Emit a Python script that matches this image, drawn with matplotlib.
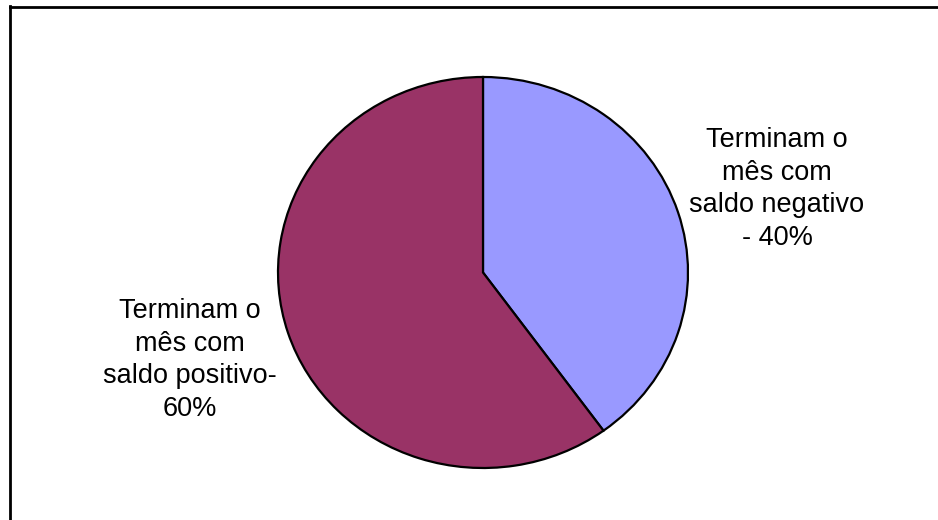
import matplotlib
matplotlib.use("Agg")
import matplotlib.pyplot as plt
from matplotlib.lines import Line2D

categories = ["Terminam o\nmês com\nsaldo negativo\n- 40%",
              "Terminam o\nmês com\nsaldo positivo-\n60%"]
values = [40, 60]
colors = ["#9999FF", "#993366"]

plt.rcParams['font.family'] = ['Liberation Sans', 'DejaVu Sans']

W, H = 938, 520
fig = plt.figure(figsize=(W / 100, H / 100), dpi=100)

# frame (left and top edges visible; others beyond the image)
fig.add_artist(Line2D([9.5 / W, 9.5 / W], [0, 1 - 6 / H], color="black", lw=2.0,
                      transform=fig.transFigure))
fig.add_artist(Line2D([9.5 / W, 1], [1 - 6.5 / H, 1 - 6.5 / H], color="black", lw=2.0,
                      transform=fig.transFigure))

ax = fig.add_axes([278 / W, (H - 468) / H, 410 / W, 391 / H])
ax.pie(values, colors=colors, startangle=90, counterclock=False,
       wedgeprops=dict(edgecolor="black", linewidth=1.6))
ax.set_aspect('auto')
ax.set_xlim(-1.0, 1.0)
ax.set_ylim(-1.0, 1.0)

label_pos = [(777 / W, 1 - 189 / H), (190 / W, 1 - 360 / H)]
for lab, (x, y) in zip(categories, label_pos):
    fig.text(x, y, lab, ha="center", va="center", fontsize=19.5, linespacing=1.34,
             multialignment="center")

fig.savefig("out.png", dpi=100)
